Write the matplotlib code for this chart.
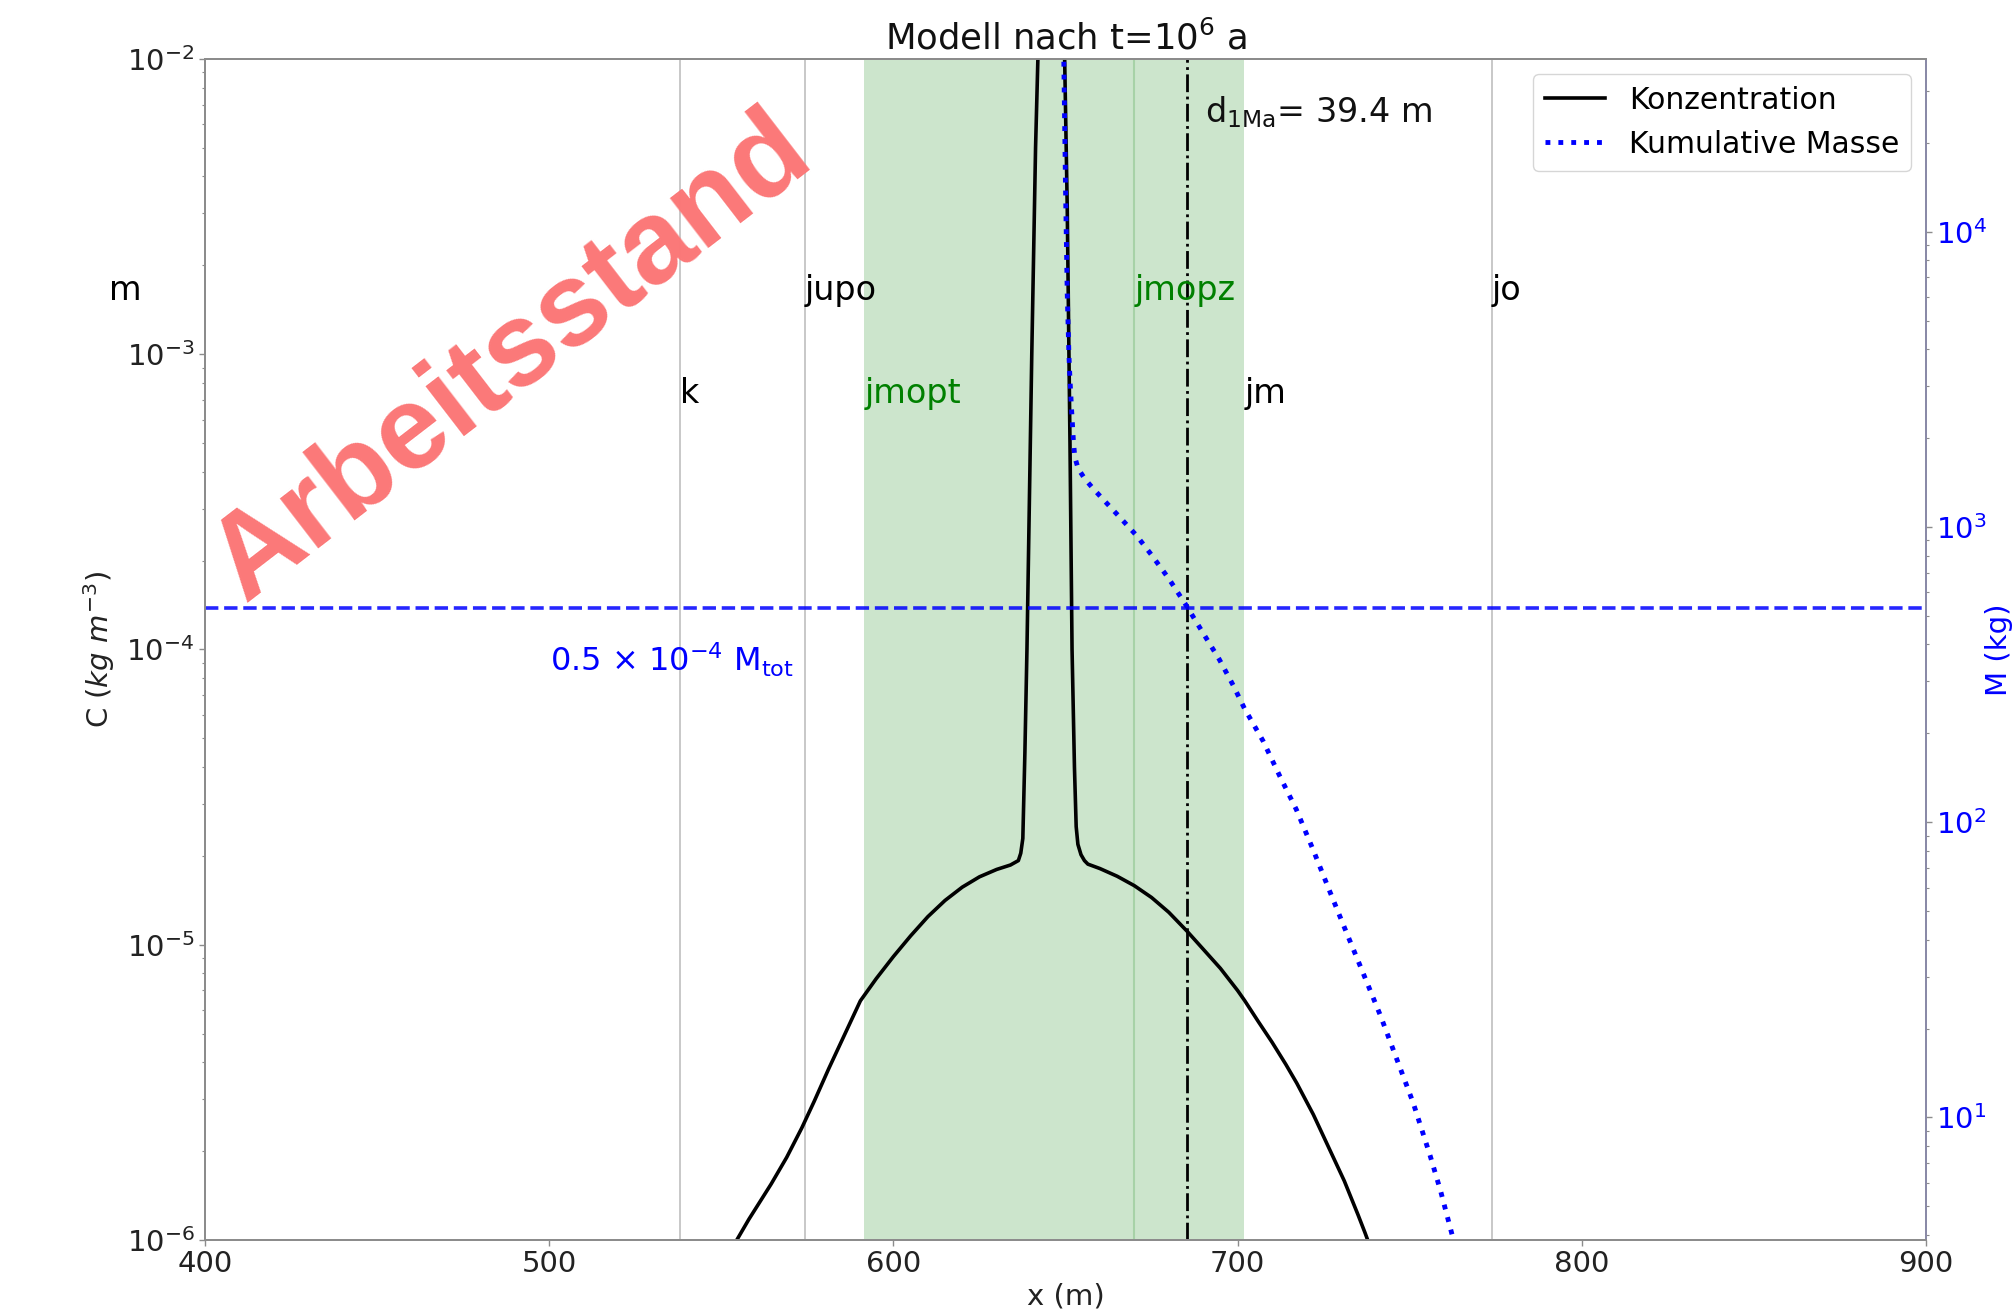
import numpy as np
import matplotlib
matplotlib.use('Agg')
import matplotlib.pyplot as plt
from matplotlib.transforms import blended_transform_factory

# ---------------- data ----------------
# concentration curve: x (m) and log10 C (kg m^-3)
conc_x = [552, 558, 564.5, 569, 573.4, 577, 581.2, 586, 590.4, 595, 600, 605, 610,
          615, 620, 625, 630, 634, 636.3, 637.0, 637.6, 638.2, 638.8, 640.2, 641.3,
          642.2, 643.5, 646, 648.5, 649.6, 650.5, 651.3, 651.9, 652.6, 653.1, 653.6,
          654.5, 655.5, 656.5, 660, 665, 670, 675, 680, 685.3, 690, 695, 700, 702.1,
          706, 710, 714, 717.2, 722, 726.8, 731, 735, 737, 740]
conc_log10 = [-6.05, -5.93, -5.81, -5.72, -5.62, -5.53, -5.42, -5.30, -5.19, -5.115,
              -5.04, -4.97, -4.905, -4.85, -4.805, -4.77, -4.745, -4.73, -4.715, -4.69,
              -4.64, -4.35, -4.0, -3.0, -2.3, -1.9, -1.5, -1.2, -1.5, -1.9, -2.5, -3.3,
              -4.0, -4.4, -4.6, -4.66, -4.695, -4.715, -4.727, -4.742, -4.768, -4.80,
              -4.84, -4.89, -4.954, -5.015, -5.08, -5.155, -5.19, -5.26, -5.33, -5.405,
              -5.469, -5.575, -5.695, -5.80, -5.915, -5.975, -6.07]

# cumulative mass: x (m) and log10 M (kg)
mass_x = [649.3, 649.6, 650.0, 650.5, 651.0, 651.3, 651.8, 652.3, 652.7, 653.7, 655.6,
          658.1, 662, 666, 670.7, 675, 680, 685.2, 690, 694.7, 698.7, 702, 707.4,
          712.3, 717.1, 722, 726.8, 731.5, 736.5, 741.5, 746.2, 751, 755.9, 759,
          762.2, 764]
mass_log10 = [4.75, 4.5, 4.15, 3.79, 3.58, 3.50, 3.39, 3.29, 3.236, 3.197, 3.163, 3.129,
              3.08, 3.03, 2.970, 2.905, 2.825, 2.732, 2.64, 2.551, 2.464, 2.385, 2.275,
              2.155, 2.042, 1.905, 1.765, 1.63, 1.488, 1.345, 1.199, 1.05, 0.872, 0.75,
              0.608, 0.53]

# geological units
layer_names = ['m', 'k', 'jupo', 'jmopt', 'jmopz', 'jm', 'jo']
layer_x = [372.0, 538.1, 574.3, 591.5, 670.0, 702.0, 773.8]
layer_colors = ['black', 'black', 'black', 'green', 'green', 'black', 'black']
layer_row = [0, 1, 0, 1, 0, 1, 0]
grey_lines = [538.1, 574.3, 773.8]
green_line = 670.0
green_span = (591.5, 702.0)
d_line_x = 685.4
mass_half_line = 532.0

x_lim = (400, 900)
c_lim = (1e-6, 1e-2)
m_lim = (10 ** 0.585, 10 ** 4.585)

# ---------------- figure ----------------
fig = plt.figure(figsize=(20.14, 13.13), dpi=100)
ax = fig.add_axes([0.1018, 0.0556, 0.8545, 0.8995])
ax2 = ax.twinx()

spine_col = '#8c8c8c'

ax.axvspan(*green_span, color='green', alpha=0.2, lw=0, zorder=0)
ax.axvline(green_line, color='green', alpha=0.18, lw=1.5, zorder=0.5)
for gx in grey_lines:
    ax.axvline(gx, color='#c8c8c8', lw=1.4, zorder=0.5)
ax.axvline(d_line_x, color='black', ls='-.', lw=2, zorder=2)

conc = 10 ** np.array(conc_log10)
mass = 10 ** np.array(mass_log10)
l1, = ax.plot(conc_x, conc, color='black', lw=2.6, zorder=3, label='Konzentration',
              solid_joinstyle='round')
l2, = ax2.plot(mass_x, mass, color='blue', ls=':', lw=3.5, label='Kumulative Masse')
ax2.axhline(mass_half_line, color='blue', ls='--', lw=2.6, alpha=0.85)

ax.set_xlim(*x_lim)
ax.set_yscale('log')
ax.set_ylim(*c_lim)
ax2.set_yscale('log')
ax2.set_ylim(*m_lim)

fs = 21
ax.tick_params(axis='both', which='major', labelsize=fs, length=4, width=1,
               color=spine_col, labelcolor='#222222')
ax.tick_params(axis='both', which='minor', length=2, width=0.8, color=spine_col)
ax2.tick_params(axis='y', which='major', labelsize=fs, length=4, width=1,
                color=spine_col, labelcolor='blue')
ax2.tick_params(axis='y', which='minor', length=2, width=0.8, color=spine_col)
ax.set_xticks([400, 500, 600, 700, 800, 900])

for a in (ax, ax2):
    for s in a.spines.values():
        s.set_color(spine_col)
        s.set_linewidth(1.4)
ax2.spines['right'].set_color('#8a8aa8')

ax.set_xlabel('x (m)', fontsize=fs, color='#222222')
ax.xaxis.set_label_coords(0.5, -0.036)
ax.set_ylabel(r'C ($kg\ m^{-3}$)', fontsize=fs, color='#222222')
ax.yaxis.set_label_coords(-0.051, 0.5)
ax2.set_ylabel('M (kg)', fontsize=fs, color='blue')
ax2.yaxis.set_label_coords(1.034, 0.5)

ax.set_title(r'Modell nach t=10$^{6}$ a', fontsize=25.5, pad=7, color='#111111')

# unit labels
trans = blended_transform_factory(ax.transData, ax.transAxes)
row_y = [0.7955, 0.709]
for name, xv, col, row in zip(layer_names, layer_x, layer_colors, layer_row):
    ax.text(xv, row_y[row], name, color=col, fontsize=24, ha='left', va='baseline',
            transform=trans, clip_on=False)

ax.text(690.6, 0.9467, r'd$_{\mathrm{1Ma}}$= 39.4 m', fontsize=24, ha='left',
        va='baseline', transform=trans, color='#111111')
ax.text(500.3, 0.4812, r'0.5 $\times$ 10$^{-4}$ M$_{\mathrm{tot}}$', fontsize=23,
        ha='left', va='baseline', transform=trans, color='blue')

leg = ax.legend(handles=[l1, l2], loc='upper right', fontsize=21.5, framealpha=0.8,
                borderaxespad=0.5)
leg.set_zorder(10)

# watermark
fig.text(244.2 / 2014, 1 - 603.2 / 1313, 'Arbeitsstand', fontsize=85,
         family='Liberation Sans', weight='bold', color='#fb7878',
         rotation=37.6, rotation_mode='anchor', ha='left', va='baseline', zorder=20)

fig.savefig('out.png', dpi=100)
